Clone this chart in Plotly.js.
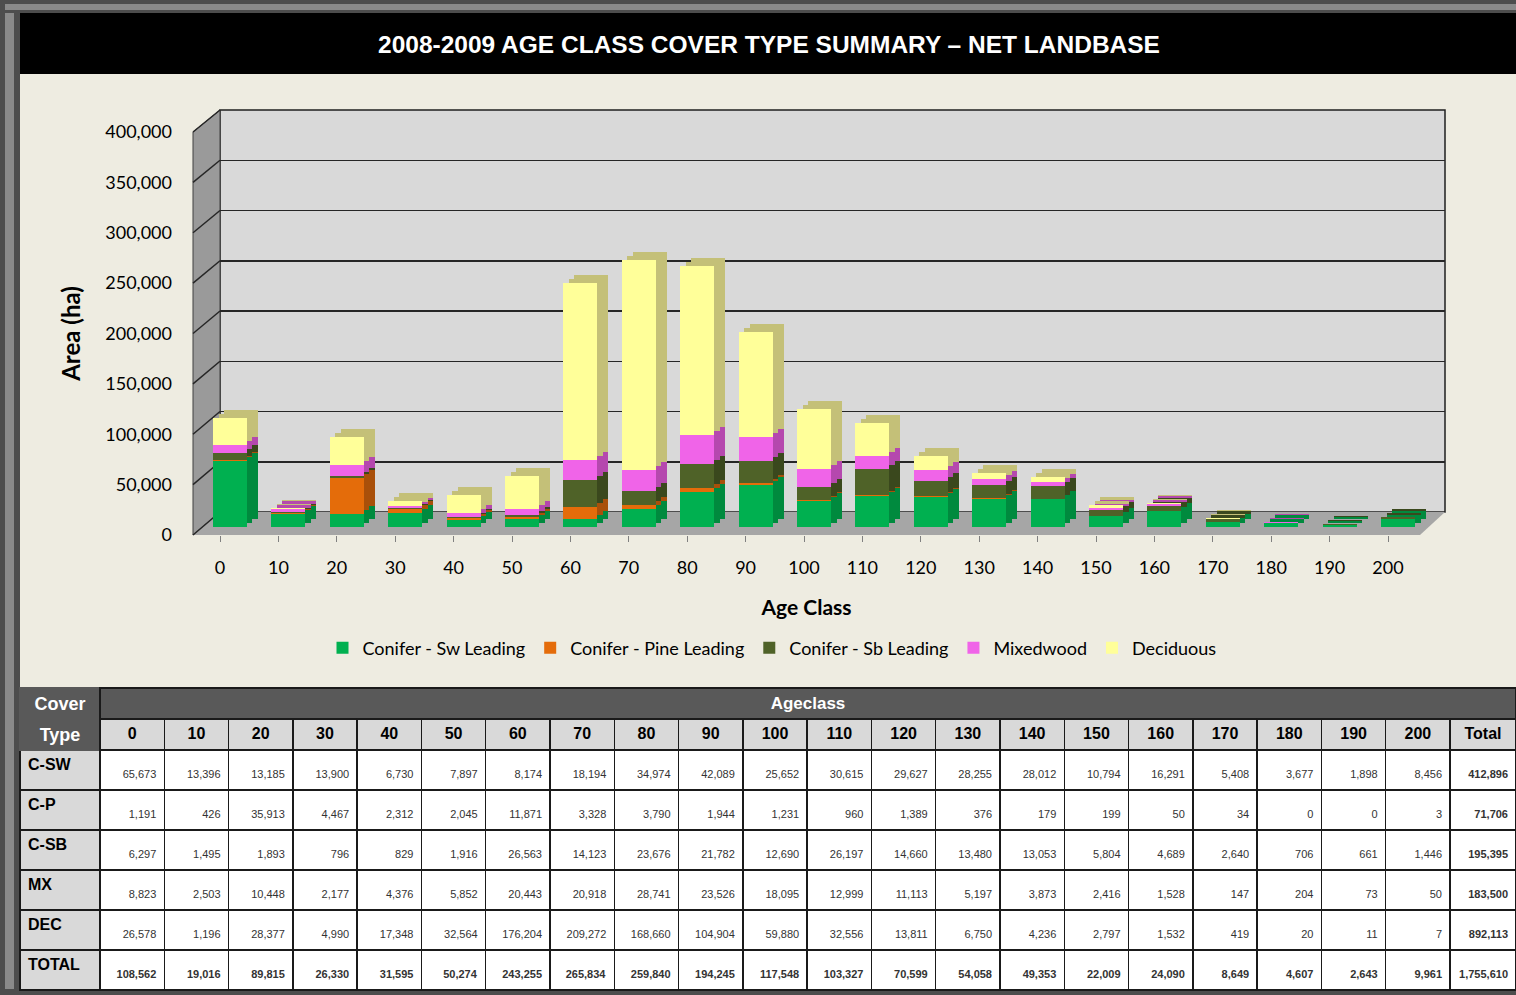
<!DOCTYPE html>
<html>
<head>
<meta charset="utf-8">
<script src="https://cdn.plot.ly/plotly-3.0.1.min.js"></script>
<style>
html,body{margin:0;padding:0;background:#4d4d4d;overflow:hidden;}
#chart{position:absolute;left:0;top:0;width:1516px;height:995px;}
</style>
</head>
<body>
<div id="chart"></div>
<script>
// ---- data ----
const ageClasses = [0,10,20,30,40,50,60,70,80,90,100,110,120,130,140,150,160,170,180,190,200];
const coverCodes = ["C-SW","C-P","C-SB","MX","DEC"];
const seriesNames = ["Conifer - Sw Leading","Conifer - Pine Leading","Conifer - Sb Leading","Mixedwood","Deciduous"];
const swLeading   = [65673,13396,13185,13900,6730,7897,8174,18194,34974,42089,25652,30615,29627,28255,28012,10794,16291,5408,3677,1898,8456];
const pineLeading = [1191,426,35913,4467,2312,2045,11871,3328,3790,1944,1231,960,1389,376,179,199,50,34,0,0,3];
const sbLeading   = [6297,1495,1893,796,829,1916,26563,14123,23676,21782,12690,26197,14660,13480,13053,5804,4689,2640,706,661,1446];
const mixedwood   = [8823,2503,10448,2177,4376,5852,20443,20918,28741,23526,18095,12999,11113,5197,3873,2416,1528,147,204,73,50];
const deciduous   = [26578,1196,28377,4990,17348,32564,176204,209272,168660,104904,59880,32556,13811,6750,4236,2797,1532,419,20,11,7];
const ageTotals   = [108562,19016,89815,26330,31595,50274,243255,265834,259840,194245,117548,103327,70599,54058,49353,22009,24090,8649,4607,2643,9961];
const coverTotals = [412896,71706,195395,183500,892113];
const grandTotal  = 1755610;
const yTicks = [0,50000,100000,150000,200000,250000,300000,350000,400000];

// ---- styling ----
const frontColors = ["#00b050","#e46c0a","#4f6228","#f064e8","#ffff99"];
const sideColors  = ["#008a3e","#a9500a","#3a481d","#b548ae","#c4c078"];
const W = 1516, H = 995;
const PX = x => x / W;
const PY = y => 1 - y / H;
const fmt = v => v.toLocaleString('en-US');
const series = [swLeading, pineLeading, sbLeading, mixedwood, deciduous];
const barWidth = 5.82;
const barRange = [-5.137, 207.19];
const TF = 'Liberation Sans, Arial';

const traces = [];
traces.push({type:'scatter', x:[null], y:[null], xaxis:'x', yaxis:'y', showlegend:false, hoverinfo:'skip'});
[['x2','y2',sideColors,false],['x3','y3',sideColors,false],['x4','y4',frontColors,true]].forEach(([xa,ya,cols,front]) => {
  series.forEach((s,i) => {
    traces.push({
      type:'bar', x:ageClasses, y:s, name:seriesNames[i], width:barWidth,
      xaxis:xa, yaxis:ya, marker:{color:cols[i], line:{width:0}},
      showlegend:front, hoverinfo: front ? 'x+y+name' : 'skip'
    });
  });
});
traces.push({type:'scatter', x:[null], y:[null], xaxis:'x5', yaxis:'y5', showlegend:false, hoverinfo:'skip'});

// ---- table: top band ----
const ageColW = 1350 / ageClasses.length;
traces.push({
  type:'table',
  domain:{x:[PX(20),1], y:[PY(720),PY(688)]},
  columnwidth:[80,1416],
  header:{
    values:[['Cover'],['Ageclass']],
    height:31,
    fill:{color:'#595959'},
    line:{color:['#595959','#1a1a1a'], width:1.5},
    font:{family:TF, size:[18,17], color:'#ffffff', weight:'bold'},
    align:'center'
  },
  cells:{values:[[''],['']], height:1, fill:{color:'#595959'}, line:{color:'#595959', width:0}}
});
// ---- table: main grid ----
const lift = '<span style="font-size:7px;color:rgba(0,0,0,0)">.</span><br>';
const headerVals = [['Type']].concat(ageClasses.map(a => [String(a)]), [['Total']]);
const cellVals = [coverCodes.concat(['TOTAL'])];
ageClasses.forEach((a,j) => {
  const col = series.map(s => lift + fmt(s[j]));
  col.push(lift + '<b>' + fmt(ageTotals[j]) + '</b>');
  cellVals.push(col);
});
cellVals.push(coverTotals.map(v => lift + '<b>' + fmt(v) + '</b>').concat([lift + '<b>' + fmt(grandTotal) + '</b>']));
const nCols = cellVals.length;
const colIdx = Array.from({length:nCols}, (_,k) => k);
traces.push({
  type:'table',
  domain:{x:[PX(20),1], y:[PY(993),PY(719)]},
  columnwidth:[80].concat(ageClasses.map(() => ageColW), [66]),
  header:{
    values:headerVals,
    height:31,
    fill:{color:colIdx.map(k => k===0 ? '#595959' : '#d9d9d9')},
    line:{color:colIdx.map(k => k===0 ? '#595959' : '#1a1a1a'), width:1.5},
    font:{family:TF, size:colIdx.map(k => k===0 ? 18 : 16), color:colIdx.map(k => k===0 ? '#ffffff' : '#000000'), weight:'bold'},
    align:'center'
  },
  cells:{
    values:cellVals,
    height:40,
    fill:{color:colIdx.map(k => k===0 ? '#d9d9d9' : '#ffffff')},
    line:{color:'#1a1a1a', width:1.5},
    font:{family:TF, size:colIdx.map(k => k===0 ? 16 : 11),
          color:colIdx.map(k => k===0 ? '#000000' : '#333333'),
          weight:colIdx.map(k => k===0 ? 'bold' : 'normal')},
    align:colIdx.map(k => k===0 ? 'left' : 'right')
  }
});

// ---- decorative shapes (frame, title bar, 3D walls) ----
const P = (x,y) => PX(x) + ',' + PY(y);
const shapes = [
  {type:'rect', xref:'paper', yref:'paper', x0:0, x1:PX(20), y0:0, y1:1, fillcolor:'#4d4d4d', line:{width:0}, layer:'below'},
  {type:'rect', xref:'paper', yref:'paper', x0:PX(5), x1:PX(14), y0:PY(989), y1:PY(4), fillcolor:'#8a8a8a', line:{width:0}, layer:'below'},
  {type:'rect', xref:'paper', yref:'paper', x0:0, x1:1, y0:PY(13), y1:1, fillcolor:'#4d4d4d', line:{width:0}, layer:'below'},
  {type:'rect', xref:'paper', yref:'paper', x0:PX(5), x1:1, y0:PY(10), y1:PY(4), fillcolor:'#8a8a8a', line:{width:0}, layer:'below'},
  {type:'rect', xref:'paper', yref:'paper', x0:0, x1:1, y0:0, y1:PY(989), fillcolor:'#4d4d4d', line:{width:0}, layer:'below'},
  {type:'rect', xref:'paper', yref:'paper', x0:PX(20), x1:1, y0:PY(74), y1:PY(13), fillcolor:'#000000', line:{width:0}, layer:'below'},
  {type:'rect', xref:'paper', yref:'paper', x0:PX(220), x1:PX(1445), y0:PY(512), y1:PY(110), fillcolor:'#d9d9d9', line:{color:'#1f1f1f', width:1.5}, layer:'below'},
  {type:'path', xref:'paper', yref:'paper', path:'M'+P(193,132)+' L'+P(220,110)+' L'+P(220,512)+' L'+P(193,535)+' Z', fillcolor:'#9a9a9a', line:{color:'#404040', width:1}, layer:'below'},
  {type:'path', xref:'paper', yref:'paper', path:'M'+P(193,535)+' L'+P(220,512)+' L'+P(1445,512)+' L'+P(1420,535)+' Z', fillcolor:'#a6a6a6', line:{width:0}, layer:'below'}
];
yTicks.forEach(v => {
  shapes.push({type:'line', xref:'paper', yref:'paper',
    x0:PX(193), y0:PY(535 - v*403/400000), x1:PX(220), y1:PY(512 - v*402/400000),
    line:{color:'#262626', width:1.5}, layer:'below'});
});

const hidden = {visible:false, fixedrange:true};
const layout = {
  width:W, height:H,
  margin:{l:0,r:0,t:0,b:0},
  paper_bgcolor:'#eeece1',
  plot_bgcolor:'rgba(0,0,0,0)',
  barmode:'stack',
  hovermode:false,
  title:{text:'<b>2008-2009 AGE CLASS COVER TYPE SUMMARY – NET LANDBASE</b>',
         font:{family:TF, size:24.5, color:'#ffffff'},
         xref:'paper', yref:'paper', x:PX(769), xanchor:'center', y:PY(44), yanchor:'middle'},
  xaxis:Object.assign({domain:[PX(220),PX(1445)], range:[0,1], anchor:'y'}, hidden),
  yaxis:{domain:[PY(512),PY(110)], range:[0,400000], tickvals:yTicks, showgrid:true, gridcolor:'#262626', gridwidth:1.5,
         showticklabels:false, ticks:'', zeroline:false, showline:false, anchor:'x', fixedrange:true},
  xaxis2:Object.assign({domain:[PX(211),PX(1451)], range:barRange, anchor:'y2'}, hidden),
  yaxis2:Object.assign({domain:[PY(519),PY(117)], range:[0,400000], anchor:'x2'}, hidden),
  xaxis3:Object.assign({domain:[PX(205.5),PX(1445.5)], range:barRange, anchor:'y3'}, hidden),
  yaxis3:Object.assign({domain:[PY(523),PY(121)], range:[0,400000], anchor:'x3'}, hidden),
  xaxis4:Object.assign({domain:[PX(200),PX(1440)], range:barRange, anchor:'y4'}, hidden),
  yaxis4:Object.assign({domain:[PY(527),PY(125)], range:[0,400000], anchor:'x4'}, hidden),
  xaxis5:{domain:[PX(193),PX(1420)], range:[-4.623,205.48], anchor:'y5', tickvals:ageClasses, ticktext:ageClasses.map(String),
          ticks:'outside', ticklen:6, tickcolor:'#808080', tickwidth:1, showgrid:false, zeroline:false, showline:false,
          ticklabelstandoff:10, tickfont:{family:'Lato', size:18, color:'#000'}, fixedrange:true,
          title:{text:'<b>Age Class</b>', font:{family:'Lato', size:21, color:'#000'}, standoff:23}},
  yaxis5:{domain:[PY(535),PY(132)], range:[0,400000], anchor:'x5', tickvals:yTicks, tickformat:',d',
          ticks:'', showgrid:false, zeroline:false, showline:false, ticklabelstandoff:20,
          tickfont:{family:'Lato', size:18, color:'#000'}, fixedrange:true,
          title:{text:'<b>Area (ha)</b>', font:{family:'Lato', size:24, color:'#000'}, standoff:17}},
  legend:{orientation:'h', x:PX(772), xanchor:'center', y:PY(648), yanchor:'middle',
          font:{family:'Lato', size:18, color:'#000'}, bgcolor:'rgba(0,0,0,0)', traceorder:'normal'},
  shapes:shapes
};

Plotly.newPlot('chart', traces, layout, {displayModeBar:false, staticPlot:true});
</script>
</body>
</html>
